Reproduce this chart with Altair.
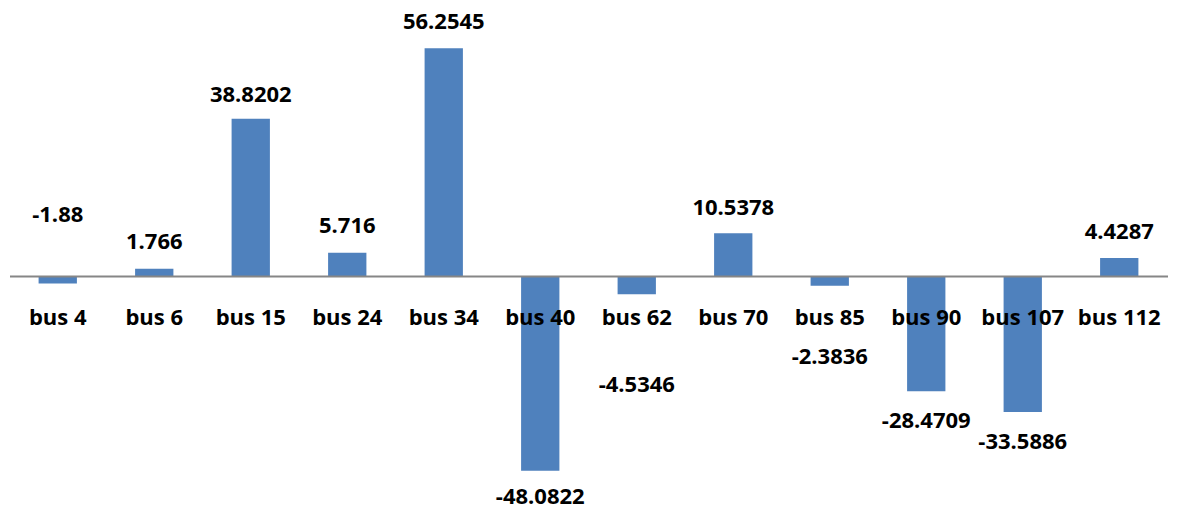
import altair as alt
import pandas as pd

buses = ["bus 4", "bus 6", "bus 15", "bus 24", "bus 34", "bus 40",
         "bus 62", "bus 70", "bus 85", "bus 90", "bus 107", "bus 112"]
values = [-1.88, 1.766, 38.8202, 5.716, 56.2545, -48.0822,
          -4.5346, 10.5378, -2.3836, -28.4709, -33.5886, 4.4287]
label_text = ["-1.88", "1.766", "38.8202", "5.716", "56.2545", "-48.0822",
              "-4.5346", "10.5378", "-2.3836", "-28.4709", "-33.5886", "4.4287"]
# data-label anchor values (in value units), as placed in the original
label_at = [15.1, 8.5, 44.7, 12.35, 62.6, -54.6,
            -26.9, 16.8, -20.0, -35.9, -41.0, 10.9]

df = pd.DataFrame({"bus": buses, "value": values,
                   "label": label_text, "label_at": label_at})

FONT = "Open Sans"
ydom = [-57.28, 64.69]

x_enc = alt.X("bus:N", sort=buses,
              scale=alt.Scale(paddingInner=0.603, paddingOuter=0.3015),
              axis=alt.Axis(title=None, orient="bottom", offset=-232,
                            domainColor="#868686", domainWidth=2,
                            ticks=False, labelAngle=0, labelPadding=31,
                            labelFont=FONT, labelFontSize=22,
                            labelFontWeight="bold", labelColor="black",
                            grid=False, zindex=1))

bars = alt.Chart(df).mark_bar(color="#4F81BD").encode(
    x=x_enc,
    y=alt.Y("value:Q", scale=alt.Scale(domain=ydom, nice=False, zero=False),
            axis=None),
)

texts = alt.Chart(df).mark_text(font=FONT, fontSize=22, fontWeight="bold",
                                color="black", baseline="middle").encode(
    x=alt.X("bus:N", sort=buses),
    y=alt.Y("label_at:Q", scale=alt.Scale(domain=ydom, nice=False, zero=False),
            axis=None),
    text="label:N",
)

chart = (bars + texts).properties(
    width=1158, height=494,
    autosize=alt.AutoSizeParams(type="none"),
    padding={"left": 1.5, "top": 6, "right": 0, "bottom": 6},
    background="white",
).configure_view(stroke=None)

chart.save("out.html", embed_options={"renderer": "svg", "actions": False})
